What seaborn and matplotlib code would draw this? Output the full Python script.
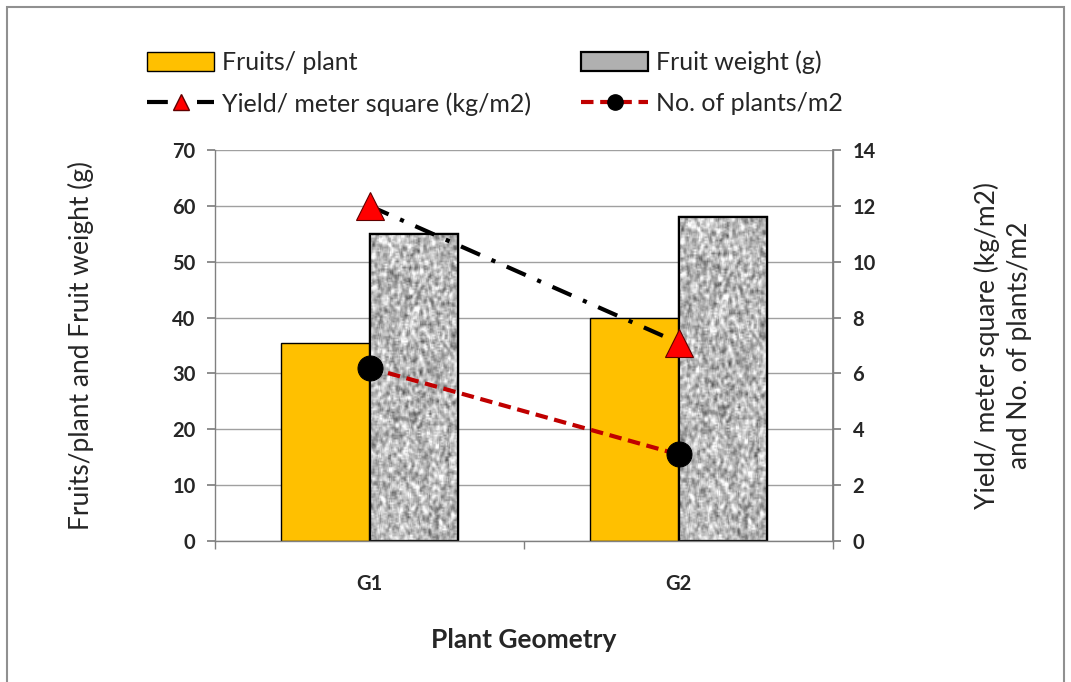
import numpy as np
import pandas as pd
import matplotlib
matplotlib.use("Agg")
import matplotlib.pyplot as plt
import seaborn as sns
from matplotlib.patches import Patch, Rectangle
from matplotlib.lines import Line2D

# Data
geometry = ["G1", "G2"]
fruits_per_plant = [35.5, 40.0]
fruit_weight = [55.0, 58.0]
yield_m2 = [12.0, 7.1]
plants_m2 = [6.2, 3.1]

bars = pd.DataFrame({
    "Geometry": geometry * 2,
    "Series": ["Fruits/ plant"] * 2 + ["Fruit weight (g)"] * 2,
    "Value": fruits_per_plant + fruit_weight,
})
lines = pd.DataFrame({"Geometry": geometry, "Yield": yield_m2, "Plants": plants_m2})

sns.set_theme(style="white")
plt.rcParams["font.family"] = ["Lato", "DejaVu Sans"]

fig = plt.figure(figsize=(10.71, 6.82), dpi=100)
ax = fig.add_axes([0.2008, 0.2067, 0.577, 0.5733])

orange = "#FFC000"
sns.barplot(data=bars, x="Geometry", y="Value", hue="Series", ax=ax,
            palette=[orange, "#b0b0b0"], width=0.57, gap=0, legend=False,
            edgecolor="black", linewidth=1.0, saturation=1)

# speckled grey texture on fruit weight bars (style only)
rng = np.random.default_rng(3)
noise = rng.normal(size=(200, 80))
k = np.ones(3) / 3
noise = np.apply_along_axis(lambda r: np.convolve(r, k, mode="same"), 0, noise)
noise = np.apply_along_axis(lambda r: np.convolve(r, k, mode="same"), 1, noise)
noise = (noise - noise.min()) / (noise.max() - noise.min())
for bar in ax.containers[1]:
    bar.set_linewidth(1.6)
    x0, y0 = bar.get_x(), bar.get_y()
    im = ax.imshow(noise, cmap="gray", vmin=-0.3, vmax=0.78, aspect="auto",
                   extent=[x0, x0 + bar.get_width(), y0, y0 + bar.get_height()],
                   zorder=bar.get_zorder() + 0.1, interpolation="bilinear")
    im.set_clip_path(bar)
    edge = Rectangle((x0, y0), bar.get_width(), bar.get_height(), fill=False,
                     edgecolor="black", linewidth=1.6, zorder=bar.get_zorder() + 0.2)
    ax.add_patch(edge)

ax.set_xlim(-0.5, 1.5)
ax.set_ylim(0, 70)
ax.set_yticks(range(0, 71, 10))
ax.yaxis.grid(True, color="#a0a0a0", linewidth=1)
ax.set_axisbelow(True)
ax.set_xlabel("Plant Geometry", fontsize=19, fontweight="bold", labelpad=24)
ax.set_ylabel("Fruits/plant and Fruit weight (g)", fontsize=19, labelpad=56)
ax.tick_params(axis="y", labelsize=14.5, length=6, color="#808080", direction="out", left=True, pad=8)
ax.tick_params(axis="x", labelsize=14.5, length=0, pad=24)
for lab in ax.get_xticklabels() + ax.get_yticklabels():
    lab.set_fontweight("bold")
ax.set_xticks([-0.5, 0.5, 1.5], minor=True)
ax.tick_params(axis="x", which="minor", length=6, color="#808080", bottom=True)
ax.spines["top"].set_visible(False)
for s in ["left", "right", "bottom"]:
    ax.spines[s].set_color("#808080")
    ax.spines[s].set_linewidth(1)

ax2 = ax.twinx()
sns.lineplot(data=lines, x="Geometry", y="Yield", ax=ax2, color="black",
             linewidth=3, linestyle=(0, (5, 3, 1, 3)), marker="^", markersize=20,
             markerfacecolor="red", markeredgecolor="#600000", markeredgewidth=0.8)
sns.lineplot(data=lines, x="Geometry", y="Plants", ax=ax2, color="#C00000",
             linewidth=3, linestyle=(0, (3, 1.6)), marker="o", markersize=18,
             markerfacecolor="black", markeredgecolor="black")
ax2.set_ylim(0, 14)
ax2.set_yticks(range(0, 15, 2))
ax2.set_ylabel("Yield/ meter square (kg/m2)\nand No. of plants/m2", fontsize=19,
               labelpad=71, linespacing=1.35)
ax2.tick_params(axis="y", labelsize=14.5, length=6, color="#808080", direction="out", right=True, pad=8)
for lab in ax2.get_yticklabels():
    lab.set_fontweight("bold")
for s in ["top", "left", "bottom"]:
    ax2.spines[s].set_visible(False)
ax2.spines["right"].set_color("#808080")
ax2.set_xlabel("")

handles = [
    Patch(facecolor=orange, edgecolor="black", linewidth=1),
    Line2D([], [], color="black", linewidth=3, linestyle=(0, (5, 3, 1, 3)), marker="^",
           markersize=12, markerfacecolor="red", markeredgecolor="#600000"),
    Patch(facecolor="#b0b0b0", edgecolor="black", linewidth=1.6),
    Line2D([], [], color="#C00000", linewidth=3, linestyle=(0, (3, 1.6)), marker="o",
           markersize=11, markerfacecolor="black", markeredgecolor="black"),
]
labels = ["Fruits/ plant", "Yield/ meter square (kg/m2)", "Fruit weight (g)", "No. of plants/m2"]
fig.legend(handles, labels, ncol=2, loc="center", bbox_to_anchor=(0.462, 0.878),
           frameon=False, fontsize=18, handlelength=2.7, handleheight=0.8,
           columnspacing=2.0, labelspacing=0.7, handletextpad=0.3)

fig.patches.append(Rectangle((7 / 1071, -0.1), 1057 / 1071, 1.1 - 7 / 682, fill=False,
                             edgecolor="#909090", linewidth=1.5, transform=fig.transFigure))

fig.savefig("out.png", dpi=100, facecolor="white")
